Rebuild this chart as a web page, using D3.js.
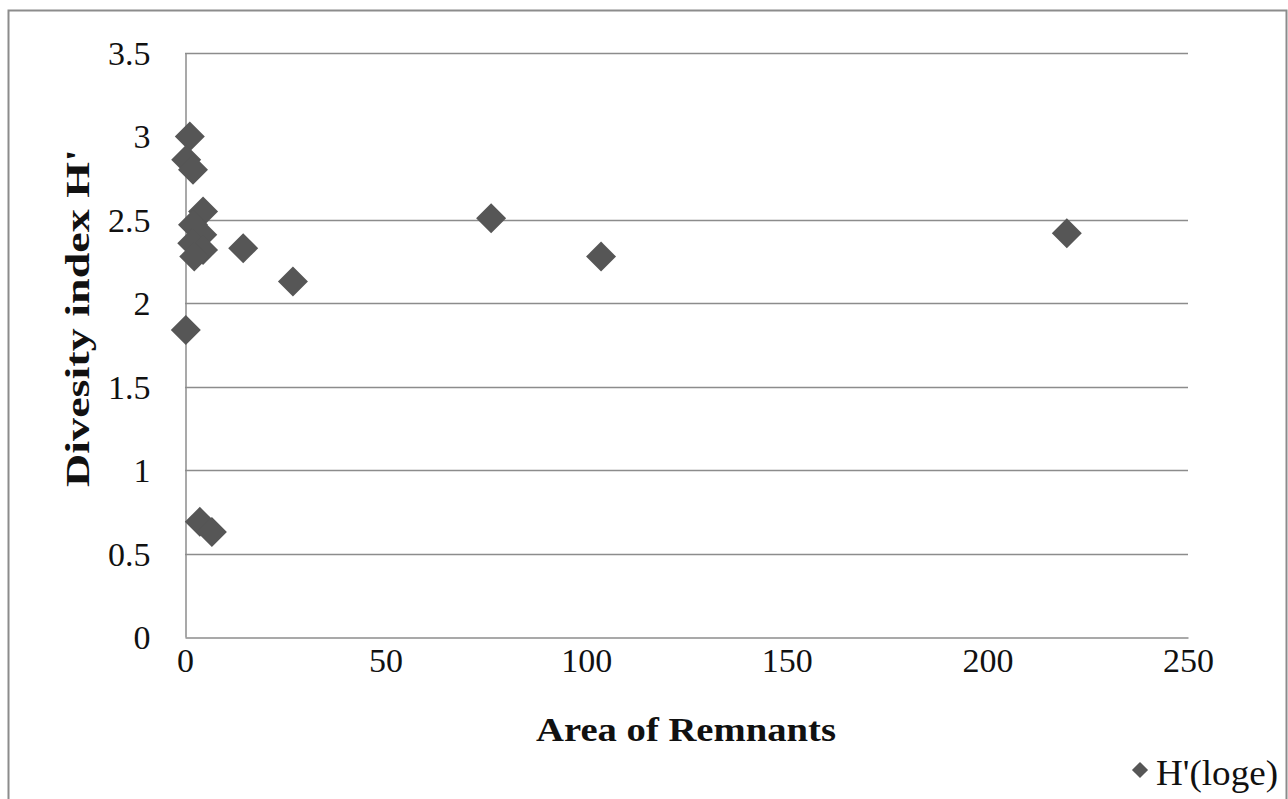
<!DOCTYPE html>
<html>
<head>
<meta charset="utf-8">
<script src="https://cdn.jsdelivr.net/npm/d3@7"></script>
<style>
  html, body { margin: 0; padding: 0; background: #fff; overflow: hidden; }
  #svg-container { width: 1288px; height: 799px; }
  text { font-family: "Liberation Serif", "DejaVu Serif", serif; fill: #111; }
</style>
</head>
<body>
<div id="svg-container"></div>
<script>
// area of remnants (x) en diversity index H' (y)
const areaValues = [1.2, 0.3, 2.0, 4.5, 2.0, 4.3, 1.8, 4.5, 2.3, 14.5, 26.9, 0.2, 3.7, 6.7, 76.3, 103.7, 219.8]
const hValues = [3.00, 2.86, 2.80, 2.55, 2.47, 2.41, 2.36, 2.32, 2.28, 2.33, 2.13, 1.84, 0.69, 0.63, 2.51, 2.28, 2.42]
const xTicks = [0, 50, 100, 150, 200, 250]
const yTicks = [0, 0.5, 1, 1.5, 2, 2.5, 3, 3.5]
const gridValues = [0.5, 1, 1.5, 2, 2.5, 3.5]   // geen lijn op 3 in het origineel
const seriesName = "H'(loge)"

const data = areaValues.map((a, i) => ({ area: a, h: hValues[i] }))

const width = 1288
const height = 799
const margin = { top: 53, right: 100, bottom: 162, left: 185 }
const innerWidth = width - margin.left - margin.right
const innerHeight = height - margin.top - margin.bottom

const svg = d3.select('#svg-container')
  .append('svg').attr('width', width).attr('height', height)
  .style('display', 'block')

// rand om de grafiek (links, boven, rechts)
svg.append('path')
  .attr('d', `M8.5,${height} V10.5 H1286.5 V${height}`)
  .attr('fill', 'none')
  .attr('stroke', '#8c8c8c')
  .attr('stroke-width', 2)

const xScale = d3.scaleLinear().domain([0, 250]).range([0, innerWidth])
const yScale = d3.scaleLinear().domain([0, 3.5]).range([innerHeight, 0])

const g = svg.append('g')
  .attr('transform', `translate(${margin.left}, ${margin.top})`)

// gridlijnen
g.selectAll('.grid')
  .data(gridValues)
  .enter().append('line')
  .attr('class', 'grid')
  .attr('x1', 0).attr('x2', innerWidth)
  .attr('y1', d => Math.round(yScale(d)) + 0.5)
  .attr('y2', d => Math.round(yScale(d)) + 0.5)
  .attr('stroke', '#8c8c8c')
  .attr('stroke-width', 1.5)

// y as
const yAxis = d3.axisLeft(yScale).tickValues(yTicks).tickSize(0).tickPadding(35)
  .tickFormat(d => String(d))
const yAxisG = g.append('g').attr('transform', 'translate(0.5,0)').call(yAxis)
  .attr('font-family', null).attr('font-size', null)
yAxisG.select('.domain').attr('stroke', '#8c8c8c').attr('stroke-width', 1.5)
yAxisG.selectAll('text').attr('font-size', 34).attr('dy', '0.34em').attr('fill', '#111')

// x as
const xAxis = d3.axisBottom(xScale).tickValues(xTicks).tickSize(0).tickPadding(34)
const xAxisG = g.append('g').attr('transform', `translate(0, ${innerHeight + 0.5})`).call(xAxis)
  .attr('font-family', null).attr('font-size', null)
xAxisG.select('.domain').attr('stroke', '#8c8c8c').attr('stroke-width', 1.5)
xAxisG.selectAll('text').attr('font-size', 34).attr('dy', '0').attr('fill', '#111')

// as titels
svg.append('text')
  .attr('x', 686).attr('y', 741)
  .attr('text-anchor', 'middle')
  .attr('font-size', 33).attr('font-weight', 'bold')
  .attr('textLength', 300).attr('lengthAdjust', 'spacingAndGlyphs')
  .text('Area of Remnants')

svg.append('text')
  .attr('transform', 'translate(89, 318) rotate(-90)')
  .attr('text-anchor', 'middle')
  .attr('font-size', 34).attr('font-weight', 'bold')
  .attr('textLength', 338).attr('lengthAdjust', 'spacingAndGlyphs')
  .text("Divesity index H'")

// punten
const diamond = d3.symbol(d3.symbolSquare, 450)
g.selectAll('.pt')
  .data(data)
  .enter().append('path')
  .attr('class', 'pt')
  .attr('d', diamond)
  .attr('transform', d => `translate(${xScale(d.area)}, ${yScale(d.h)}) rotate(45)`)
  .attr('fill', '#565656')

// legenda
svg.append('path')
  .attr('d', d3.symbol(d3.symbolSquare, 130))
  .attr('transform', 'translate(1140, 770) rotate(45)')
  .attr('fill', '#565656')
svg.append('text')
  .attr('x', 1156).attr('y', 785)
  .attr('font-size', 35)
  .attr('textLength', 122).attr('lengthAdjust', 'spacingAndGlyphs')
  .text(seriesName)
</script>
</body>
</html>
